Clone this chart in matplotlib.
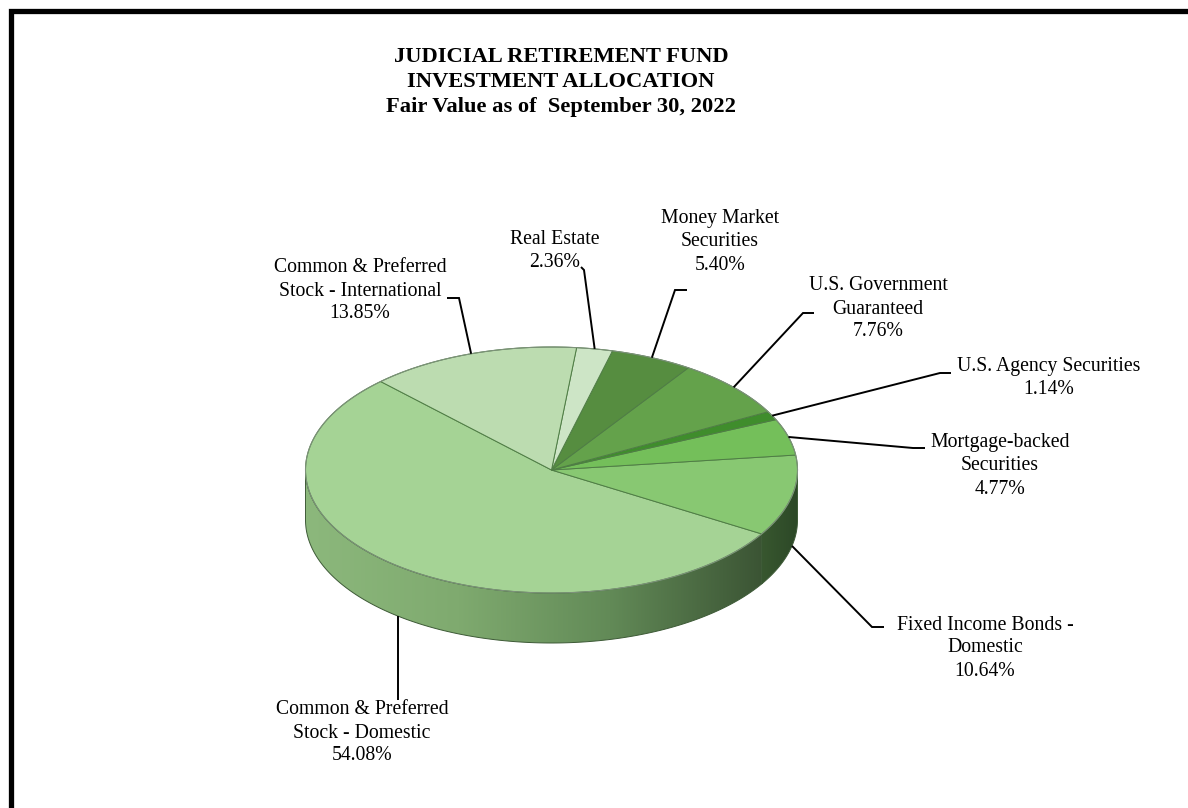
import numpy as np
import matplotlib.pyplot as plt
from matplotlib.patches import Polygon
from matplotlib.colors import LinearSegmentedColormap

plt.rcParams["font.family"] = ["Liberation Serif", "DejaVu Serif"]

# Asset classes, counter-clockwise from the big domestic stock slice
categories = [
    "Common & Preferred\nStock - Domestic",
    "Fixed Income Bonds -\nDomestic",
    "Mortgage-backed\nSecurities",
    "U.S. Agency Securities",
    "U.S. Government\nGuaranteed",
    "Money Market\nSecurities",
    "Real Estate",
    "Common & Preferred\nStock - International",
]
shares = [54.08, 10.64, 4.77, 1.14, 7.76, 5.40, 2.36, 13.85]

top_colors = ["#a5d395", "#88c872", "#74bf5a", "#3f8d2c",
              "#64a24b", "#568d40", "#cde5c6", "#bcdcb0"]
# light -> dark shading of the visible side wall
side_colors = [["#8cb87c", "#7faa6f", "#628a57", "#3b5434"],
               ["#38572f", "#2c4827"],
               ["#5a8f48", "#3f6a33"], ["#2f6a22", "#24541a"],
               ["#4c7d3a", "#3a632d"], ["#426c32", "#335627"],
               ["#9ab592", "#7a9472"], ["#93ad88", "#748d6a"]]

# label block centres and leader elbows (pixels); None = straight down
label_pos = [(362, 733), (985, 648), (1000, 466), (1049, 378),
             (878, 309), (720, 242), (555, 251), (360, 291)]
elbows = [[(None, 700)],
          [(872, 627), (884, 627)],
          [(913, 448), (925, 448)],
          [(940, 373), (951, 373)],
          [(803, 313), (814, 313)],
          [(675, 290), (687, 290)],
          [(584, 270), (581, 267)],
          [(459, 298), (447, 298)]]

W, H = 1188, 808
CX, CY = 551.5, 470.0
RX, RY = 246.0, 123.0
DEPTH = 50.0
START = 134.0
LINE_STEP = 23


def rim(t, drop=0.0):
    t = np.radians(t)
    return CX + RX * np.cos(t), CY - RY * np.sin(t) + drop


fig = plt.figure(figsize=(W / 100, H / 100), dpi=100)
ax = fig.add_axes([0, 0, 1, 1])
ax.set_axis_off()

# slice angles
spans = np.array(shares) / sum(shares) * 360.0
edges = START + np.concatenate([[0], np.cumsum(spans)])

# side wall (front half only: 180..360 degrees)
for i in range(len(shares)):
    t1, t2 = edges[i], edges[i + 1]
    for lo, hi in [(180, 360), (540, 720)]:
        a, b = max(t1, lo), min(t2, hi)
        if b <= a:
            continue
        ts = np.linspace(a, b, 200)
        xs, ys = rim(ts)
        xb, yb = rim(ts[::-1], DEPTH)
        pts = np.column_stack([np.concatenate([xs, xb]),
                               np.concatenate([ys, yb])])
        poly = Polygon(pts, closed=True, facecolor="none",
                       edgecolor="#3d5a36", linewidth=0.7, zorder=2)
        ax.add_patch(poly)
        cmap = LinearSegmentedColormap.from_list("side", side_colors[i])
        grad = np.linspace(0, 1, 256).reshape(1, -1)
        im = ax.imshow(grad, cmap=cmap, aspect="auto", zorder=1,
                       extent=(pts[:, 0].min(), pts[:, 0].max(),
                               pts[:, 1].max(), pts[:, 1].min()))
        im.set_clip_path(poly)

# top face
for i in range(len(shares)):
    ts = np.linspace(edges[i], edges[i + 1], 200)
    xs, ys = rim(ts)
    pts = np.column_stack([np.concatenate([[CX], xs]),
                           np.concatenate([[CY], ys])])
    ax.add_patch(Polygon(pts, closed=True, facecolor=top_colors[i],
                         edgecolor="#4f7d45", linewidth=0.7, zorder=3))
ts = np.linspace(0, 360, 400)
ax.plot(*rim(ts), color="#7d927a", linewidth=0.8, zorder=4)

# leaders and labels
for i, (name, share) in enumerate(zip(categories, shares)):
    mid = (edges[i] + edges[i + 1]) / 2
    front = np.sin(np.radians(mid)) < 0
    x0, y0 = rim(mid, DEPTH if front else 0.0)
    path = [(x0, y0)] + [(x0 if ex is None else ex, ey)
                         for ex, ey in elbows[i]]
    ax.plot([p[0] for p in path], [p[1] for p in path],
            color="black", linewidth=1.4, zorder=5,
            solid_capstyle="butt", solid_joinstyle="miter")
    lines = name.split("\n") + [f"{share:.2f}%"]
    lx, ly = label_pos[i]
    for k, txt in enumerate(lines):
        ax.text(lx, ly + (k - (len(lines) - 1) / 2) * LINE_STEP, txt,
                ha="center", va="center", fontsize=14.2, zorder=6)

# title
title_lines = ["JUDICIAL RETIREMENT FUND", "INVESTMENT ALLOCATION",
               "Fair Value as of  September 30, 2022"]
for k, txt in enumerate(title_lines):
    ax.text(561, 57 + k * 25, txt, ha="center", va="center",
            fontsize=16.2, fontweight="bold")

# page frame
ax.plot([10.5, 10.5, W], [H, 10.5, 10.5], color="black", linewidth=3.8,
        solid_joinstyle="miter", zorder=7)

ax.set_xlim(0, W)
ax.set_ylim(H, 0)
fig.savefig("out.png", dpi=100)
